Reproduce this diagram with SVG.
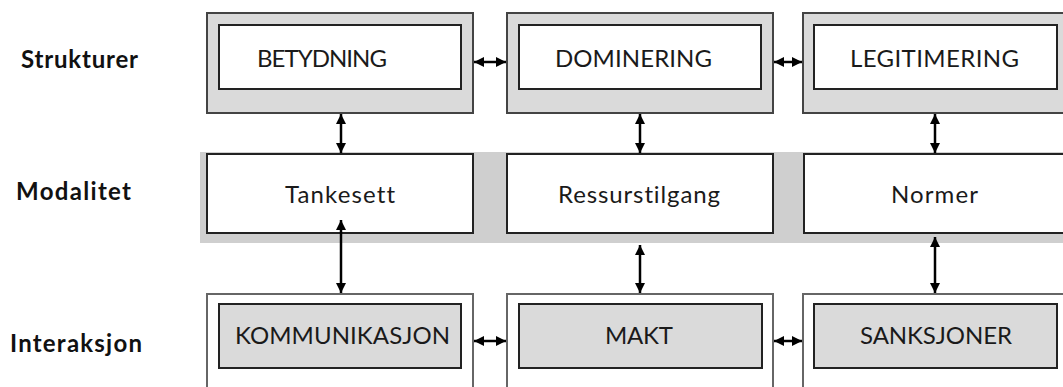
<svg xmlns="http://www.w3.org/2000/svg" width="1063" height="387" viewBox="0 0 1063 387">
<style>
text{font-variant-ligatures:none;font-feature-settings:"liga" 0,"clig" 0}
.t{font-family:Lato,"Open Sans","Liberation Sans",sans-serif;font-size:24px;fill:#1a1a1a}
.lbl{font-family:Lato,"Open Sans","Liberation Sans",sans-serif;font-size:24px;font-weight:bold;fill:#111}
.outerTop{fill:#dadada;stroke:#444;stroke-width:2}
.innerW{fill:#fff;stroke:#222;stroke-width:2}
.outerBot{fill:#fff;stroke:#666;stroke-width:2}
.innerG{fill:#dadada;stroke:#222;stroke-width:2}
.conn{stroke:#000;stroke-width:2.5;fill:none;marker-start:url(#ah);marker-end:url(#ah)}
</style>
<defs>
<marker id="ah" viewBox="0 0 10 10" refX="10" refY="5" markerWidth="10" markerHeight="10" markerUnits="userSpaceOnUse" orient="auto-start-reverse">
<path d="M0,0 L10,5 L0,10 Z" fill="#000"/>
</marker>
</defs>
<rect width="1063" height="387" fill="#fff"/>

<g id="labels">
<text class="lbl" x="21" y="68" textLength="117">Strukturer</text>
<text class="lbl" x="16" y="200" textLength="115">Modalitet</text>
<text class="lbl" x="10" y="352" textLength="132">Interaksjon</text>
</g>

<g id="band">
<rect x="200" y="152" width="866" height="91" fill="#cfcfcf"/>
</g>

<g id="betydning">
<rect class="outerTop" x="207" y="13" width="266" height="100"/>
<rect class="innerW" x="219" y="25" width="242" height="64"/>
<text class="t" x="257" y="67" textLength="130">BETYDNING</text>
</g>
<g id="dominering">
<rect class="outerTop" x="507" y="13" width="266" height="100"/>
<rect class="innerW" x="519" y="25" width="242" height="64"/>
<text class="t" x="555" y="67" textLength="157">DOMINERING</text>
</g>
<g id="legitimering">
<rect class="outerTop" x="803" y="13" width="270" height="100"/>
<rect class="innerW" x="814" y="25" width="243" height="64"/>
<text class="t" x="850" y="67" textLength="169">LEGITIMERING</text>
</g>

<g id="tankesett">
<rect class="innerW" x="207" y="154" width="266" height="79"/>
<text class="t" x="285" y="203" textLength="110">Tankesett</text>
</g>
<g id="ressurstilgang">
<rect class="innerW" x="507" y="154" width="266" height="79"/>
<text class="t" x="558" y="203" textLength="162">Ressurstilgang</text>
</g>
<g id="normer">
<rect class="innerW" x="804" y="154" width="270" height="79"/>
<text class="t" x="891" y="203" textLength="87">Normer</text>
</g>

<g id="kommunikasjon">
<rect class="outerBot" x="207" y="294" width="266" height="110"/>
<rect class="innerG" x="219" y="304" width="242" height="64"/>
<text class="t" x="235" y="344" textLength="215">KOMMUNIKASJON</text>
</g>
<g id="makt">
<rect class="outerBot" x="507" y="294" width="266" height="110"/>
<rect class="innerG" x="519" y="304" width="243" height="64"/>
<text class="t" x="605" y="344" textLength="68">MAKT</text>
</g>
<g id="sanksjoner">
<rect class="outerBot" x="803" y="294" width="270" height="110"/>
<rect class="innerG" x="814" y="304" width="243" height="64"/>
<text class="t" x="860" y="344" textLength="152">SANKSJONER</text>
</g>

<g id="connectors">
<line class="conn" x1="474" y1="62" x2="506" y2="62"/>
<line class="conn" x1="774" y1="62" x2="802" y2="62"/>
<line class="conn" x1="474" y1="341" x2="506" y2="341"/>
<line class="conn" x1="774" y1="341" x2="802" y2="341"/>
<line class="conn" x1="341" y1="114" x2="341" y2="153"/>
<line class="conn" x1="640" y1="114" x2="640" y2="153"/>
<line class="conn" x1="935" y1="114" x2="935" y2="153"/>
<line class="conn" x1="341" y1="220" x2="341" y2="293"/>
<line class="conn" x1="640" y1="245" x2="640" y2="293"/>
<line class="conn" x1="935" y1="237" x2="935" y2="293"/>
</g>
</svg>
